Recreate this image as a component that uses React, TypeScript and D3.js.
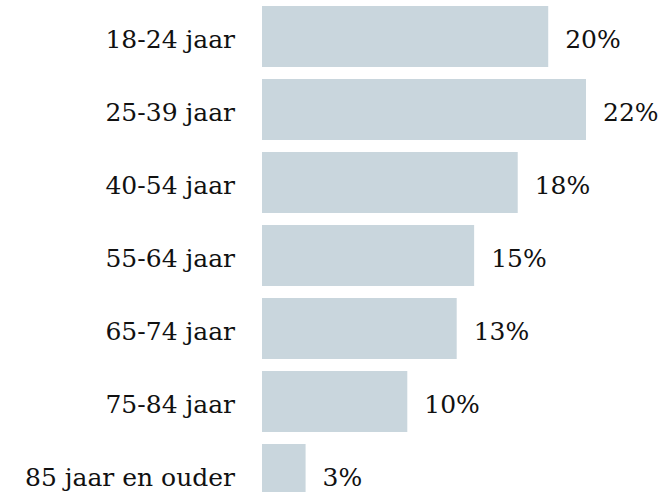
import React from "react";
import * as d3 from "d3";

const categories = ["18-24 jaar", "25-39 jaar", "40-54 jaar", "55-64 jaar", "65-74 jaar", "75-84 jaar", "85 jaar en ouder"];
const values = [19.7, 22.3, 17.6, 14.6, 13.4, 10.0, 3.0];
const valueLabels = ["20%", "22%", "18%", "15%", "13%", "10%", "3%"];

const W = 672;
const H = 492;

export default function App() {
  const y = d3
    .scaleBand<string>()
    .domain(categories)
    .range([0, 511])
    .paddingInner(12 / 73)
    .paddingOuter(6 / 73);
  const x = d3.scaleLinear().domain([0, 22.3]).range([262, 586]);
  const font = "'DejaVu Serif', Georgia, serif";
  return (
    <svg width={W} height={H} style={{ position: "absolute", left: 0, top: 0, background: "#fff" }}>
      {categories.map((c, i) => {
        const y0 = y(c)!;
        const cy = y0 + y.bandwidth() / 2;
        return (
          <g key={c}>
            <rect x={x(0)} y={y0} width={x(values[i]) - x(0)} height={y.bandwidth()} fill="#c9d6dd" />
            <text x={235} y={cy + 11} textAnchor="end" fontFamily={font} fontSize={25} fill="#111">
              {c}
            </text>
            <text x={x(values[i]) + 17} y={cy + 11} fontFamily={font} fontSize={25} fill="#111">
              {valueLabels[i]}
            </text>
          </g>
        );
      })}
    </svg>
  );
}
